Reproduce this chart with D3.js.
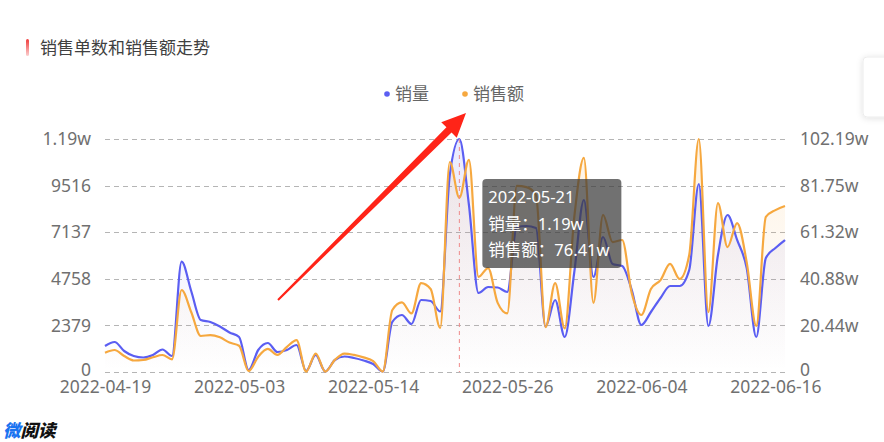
<!DOCTYPE html>
<html>
<head>
<meta charset="utf-8">
<script src="https://cdn.jsdelivr.net/npm/d3@7/dist/d3.min.js"></script>
<style>
  html, body { margin: 0; padding: 0; background: #fff; }
  svg { display: block; font-family: 'Noto Sans', 'Noto Sans CJK SC', sans-serif; }
</style>
</head>
<body>
<svg id="chart" width="884" height="442"></svg>
<script>
// Daily entries (some days carry two records)
const dates = [
  "2022-04-19","2022-04-20","2022-04-21","2022-04-22","2022-04-23","2022-04-24","2022-04-25","2022-04-26",
  "2022-04-27","2022-04-28","2022-04-29","2022-04-30","2022-05-01","2022-05-02","2022-05-03",
  "2022-05-04","2022-05-04","2022-05-05","2022-05-06","2022-05-07","2022-05-07","2022-05-08","2022-05-09",
  "2022-05-10","2022-05-11","2022-05-11","2022-05-12","2022-05-13","2022-05-14",
  "2022-05-15","2022-05-16","2022-05-16","2022-05-17","2022-05-18","2022-05-19","2022-05-19","2022-05-20","2022-05-21",
  "2022-05-22","2022-05-23","2022-05-24","2022-05-25","2022-05-26",
  "2022-05-27","2022-05-27","2022-05-28","2022-05-29","2022-05-29","2022-05-30","2022-05-31","2022-05-31",
  "2022-06-01","2022-06-01","2022-06-02","2022-06-03","2022-06-03","2022-06-04",
  "2022-06-05","2022-06-06","2022-06-07","2022-06-07","2022-06-08","2022-06-09","2022-06-10","2022-06-11",
  "2022-06-12","2022-06-12","2022-06-13","2022-06-14","2022-06-15","2022-06-16","2022-06-17"
];

// 销量 (单)
const salesCount = [
  1327, 1532, 1072, 817, 740, 868, 1149, 817, 5631, 4135, 2655, 2553, 2323, 2017, 1787,
  102, 1123, 1480, 1021, 1123, 1378, 51, 868, 26, 613, 791, 715, 587, 408,
  26, 2553, 2910, 2450, 3676, 3625, 3088, 10057, 11895,
  8526, 4033, 4340, 4314, 4084,
  7402, 7454, 7351, 2313, 3676, 1787, 5105, 8782, 4850, 6892, 5513, 5411, 4186, 2400,
  3063, 3778, 4390, 4390, 5207, 9598, 2348, 5972, 8015, 6739, 5309, 1787, 5820, 6330, 6739
];

// 销售额 (万元)
const salesAmount = [
  8.46, 9.65, 7.0, 5.04, 5.26, 6.45, 7.46, 5.57, 35.96, 26.3, 15.8, 16.2, 15.2, 12.9, 11.5,
  0.4, 6.7, 10.1, 7.5, 11.0, 14.0, 0.2, 8.1, 0.2, 5.3, 8.1, 7.5, 6.4, 4.8,
  0.2, 27.2, 30.5, 25.7, 39.0, 36.4, 19.3, 92.1, 76.41,
  93.0, 41.7, 45.6, 30.3, 25.7,
  81.6, 81.1, 77.6, 19.7, 39.0, 19.1, 68.0, 93.9, 30.3, 68.9, 57.0, 57.9, 34.6, 25.0,
  36.4, 40.3, 47.4, 40.8, 51.3, 102.19, 26.3, 74.1, 54.8, 65.3, 48.2, 20.2, 68.0, 71.0, 72.8
];

const seriesNames = ["销量", "销售额"];
const xTickDates = ["2022-04-19","2022-05-03","2022-05-14","2022-05-26","2022-06-04","2022-06-16"];
const leftTickValues = [0, 2379, 4758, 7137, 9516, 11895];
const leftTickLabels = ["0", "2379", "4758", "7137", "9516", "1.19w"];
const rightTickLabels = ["0", "20.44w", "40.88w", "61.32w", "81.75w", "102.19w"];
const rightMax = 102.19;
const hoverDate = "2022-05-21";

const colors = { count: "#5b5ef2", amount: "#f6a83f" };
const font = "'Noto Sans', 'Noto Sans CJK SC', sans-serif";

const svg = d3.select("#chart");
const plot = { left: 105, right: 785, top: 139, bottom: 372 };

const x = d3.scaleLinear().domain([0, dates.length - 1]).range([plot.left, plot.right]);
const yL = d3.scaleLinear().domain([0, leftTickValues[leftTickValues.length - 1]]).range([plot.bottom, plot.top]);
const yR = d3.scaleLinear().domain([0, rightMax]).range([plot.bottom, plot.top]);
const rightTickValues = rightTickLabels.map((_, i) => rightMax * i / (rightTickLabels.length - 1));

const defs = svg.append("defs");
function areaGradient(id, color) {
  const g = defs.append("linearGradient").attr("id", id)
    .attr("gradientUnits", "userSpaceOnUse")
    .attr("x1", 0).attr("y1", plot.top).attr("x2", 0).attr("y2", plot.bottom);
  g.append("stop").attr("offset", "0%").attr("stop-color", color).attr("stop-opacity", 0.13);
  g.append("stop").attr("offset", "100%").attr("stop-color", color).attr("stop-opacity", 0.0);
}
areaGradient("gradCount", colors.count);
areaGradient("gradAmount", colors.amount);

const barGrad = defs.append("linearGradient").attr("id", "titleBar")
  .attr("x1", 0).attr("y1", 0).attr("x2", 0).attr("y2", 1);
barGrad.append("stop").attr("offset", "0%").attr("stop-color", "#f03a3a");
barGrad.append("stop").attr("offset", "100%").attr("stop-color", "#fbd0d0");

const shadow = defs.append("filter").attr("id", "panelShadow")
  .attr("x", "-50%").attr("y", "-50%").attr("width", "200%").attr("height", "200%");
shadow.append("feDropShadow").attr("dx", 0).attr("dy", 1).attr("stdDeviation", 3)
  .attr("flood-color", "#000").attr("flood-opacity", 0.12);

// Floating panel at the right edge
svg.append("rect").attr("x", 863).attr("y", 57).attr("width", 40).attr("height", 60).attr("rx", 4)
  .attr("fill", "#fff").attr("stroke", "#ececec").attr("filter", "url(#panelShadow)");

// Title
svg.append("rect").attr("x", 26).attr("y", 39).attr("width", 3).attr("height", 17)
  .attr("rx", 1.5).attr("fill", "url(#titleBar)");
svg.append("text").attr("x", 40).attr("y", 54).attr("font-size", 17).attr("fill", "#404040")
  .text("销售单数和销售额走势");

// Legend
const legendItems = [
  { name: seriesNames[0], color: colors.count, cx: 387 },
  { name: seriesNames[1], color: colors.amount, cx: 465 }
];
const legend = svg.append("g");
legendItems.forEach(d => {
  legend.append("circle").attr("cx", d.cx).attr("cy", 94).attr("r", 2.8).attr("fill", d.color);
  legend.append("text").attr("x", d.cx + 8).attr("y", 100).attr("font-size", 17)
    .attr("fill", "#666").text(d.name);
});

// Grid lines
svg.append("g").selectAll("line").data(leftTickValues).join("line")
  .attr("x1", plot.left).attr("x2", plot.right)
  .attr("y1", d => Math.round(yL(d)) + 0.5).attr("y2", d => Math.round(yL(d)) + 0.5)
  .attr("stroke", "#b5b5b5").attr("stroke-dasharray", "5,4").attr("stroke-width", 1);

// Axes
const axisFont = 17.5;
const xAxis = svg.append("g").attr("transform", `translate(0,${plot.bottom})`)
  .call(d3.axisBottom(x).tickValues(xTickDates.map(d => dates.indexOf(d)))
    .tickFormat(i => dates[i]).tickSize(0).tickPadding(9));
const leftAxis = svg.append("g").attr("transform", `translate(${plot.left},0)`)
  .call(d3.axisLeft(yL).tickValues(leftTickValues)
    .tickFormat((d, i) => leftTickLabels[i]).tickSize(0).tickPadding(14));
const rightAxis = svg.append("g").attr("transform", `translate(${plot.right},0)`)
  .call(d3.axisRight(yR).tickValues(rightTickValues)
    .tickFormat((d, i) => rightTickLabels[i]).tickSize(0).tickPadding(15));
[xAxis, leftAxis, rightAxis].forEach(g => {
  g.select(".domain").remove();
  g.selectAll("text").attr("font-size", axisFont).attr("font-family", font).attr("fill", "#707070");
});
// the zero labels sit a touch higher so they clear the date labels
[leftAxis, rightAxis].forEach(g => g.selectAll(".tick").filter(d => d === 0)
  .select("text").attr("dy", "0.2em"));

// Areas and lines
const curve = d3.curveMonotoneX;
const areaCount = d3.area().x((d, i) => x(i)).y0(plot.bottom).y1(d => yL(d)).curve(curve);
const lineCount = d3.line().x((d, i) => x(i)).y(d => yL(d)).curve(curve);
const areaAmount = d3.area().x((d, i) => x(i)).y0(plot.bottom).y1(d => yR(d)).curve(curve);
const lineAmount = d3.line().x((d, i) => x(i)).y(d => yR(d)).curve(curve);

svg.append("path").datum(salesCount).attr("d", areaCount).attr("fill", "url(#gradCount)");
svg.append("path").datum(salesAmount).attr("d", areaAmount).attr("fill", "url(#gradAmount)");
svg.append("path").datum(salesCount).attr("d", lineCount)
  .attr("fill", "none").attr("stroke", colors.count).attr("stroke-width", 2.2);
svg.append("path").datum(salesAmount).attr("d", lineAmount)
  .attr("fill", "none").attr("stroke", colors.amount).attr("stroke-width", 2.2);

// Axis pointer and tooltip for the hovered day
const hi = dates.indexOf(hoverDate);
const hx = x(hi);
svg.append("line").attr("x1", hx).attr("x2", hx).attr("y1", plot.top).attr("y2", plot.bottom)
  .attr("stroke", "#ee8a8a").attr("stroke-dasharray", "4,4").attr("stroke-width", 1);

const fmtW = v => (v / 10000).toFixed(2) + "w";
const tip = svg.append("g").attr("transform", `translate(${hx + 23},179)`);
tip.append("rect").attr("width", 139).attr("height", 89).attr("rx", 4)
  .attr("fill", "rgba(58,58,58,0.72)");
const tipLines = [
  hoverDate,
  `${seriesNames[0]}：${fmtW(salesCount[hi])}`,
  `${seriesNames[1]}：${salesAmount[hi].toFixed(2)}w`
];
tip.selectAll("text").data(tipLines).join("text")
  .attr("x", 6).attr("y", (d, i) => 24 + i * 26.5)
  .attr("font-size", 16.5).attr("fill", "#fff").text(d => d);

// Red annotation arrow
(function drawArrow(x0, y0, x1, y1) {
  const dx = x1 - x0, dy = y1 - y0, L = Math.hypot(dx, dy);
  const ux = dx / L, uy = dy / L, nx = -uy, ny = ux;
  const headLen = 24, headHalf = 11;
  const pts = [
    [0, 1], [L - headLen, 3.6], [L - headLen, headHalf], [L, 0],
    [L - headLen, -headHalf], [L - headLen, -3.6], [0, -1]
  ].map(([s, t]) => [x0 + ux * s + nx * t, y0 + uy * s + ny * t]);
  svg.append("polygon").attr("points", pts.map(p => p.join(",")).join(" "))
    .attr("fill", "#ff2418");
})(278, 300, 466, 113);

// Brand mark
const brand = svg.append("text").attr("x", 3).attr("y", 437)
  .attr("font-size", 17.5).attr("font-weight", 900).attr("font-style", "italic");
brand.append("tspan").attr("fill", "#1a73f0").text("微");
brand.append("tspan").attr("fill", "#111").text("阅读");
</script>
</body>
</html>
